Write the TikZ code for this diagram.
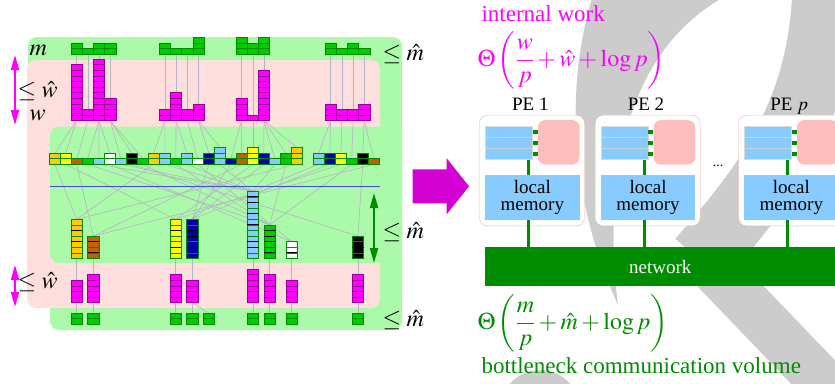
\documentclass[tikz,border=0pt]{standalone}
\usepackage{mathptmx}
\usepackage{fontspec}
\setmainfont{Liberation Serif}
\usetikzlibrary{arrows.meta}

\definecolor{bandgreen}{RGB}{170,250,170}
\definecolor{bandpink}{RGB}{255,222,222}
\definecolor{cgold}{RGB}{255,204,0}
\definecolor{cyellow}{RGB}{255,255,0}
\definecolor{cbrown}{RGB}{192,96,0}
\definecolor{cgreen}{RGB}{0,204,0}
\definecolor{clblue}{RGB}{136,204,255}
\definecolor{cdblue}{RGB}{0,0,170}
\definecolor{cmag}{RGB}{255,0,255}
\definecolor{magline}{RGB}{150,0,150}
\definecolor{grnline}{RGB}{0,140,0}
\definecolor{netgreen}{RGB}{0,140,0}
\definecolor{pepink}{RGB}{255,190,190}
\definecolor{peline}{RGB}{255,170,170}
\definecolor{arrowmag}{RGB}{210,0,210}
\definecolor{linkgray}{RGB}{180,180,190}
\definecolor{wmgray}{RGB}{204,204,204}
\definecolor{splitblue}{RGB}{70,70,230}

\newcommand{\bigfont}{\fontsize{23}{27}\selectfont}
\newcommand{\formfont}{\fontsize{24}{28}\selectfont}
\newcommand{\pefont}{\fontsize{19}{16.5}\selectfont}
\newcommand{\labfont}{\fontsize{24}{28}\selectfont}

% a column of #3 cells, left edge #1, bottom #2
\newcommand{\cells}[4]{%
  \foreach \j in {1,...,#3}
    \filldraw[#4] (#1,#2-5.6*\j+5.6) rectangle ++(11.2,-5.6);%
}

\pgfdeclarelayer{back}
\pgfdeclarelayer{links}
\pgfsetlayers{back,links,main}

\tikzset{
  link/.style={draw=linkgray, line width=0.6pt},
  magcell/.style={fill=cmag, draw=magline, line width=0.6pt},
  grncell/.style={fill=cgreen, draw=grnline, line width=0.6pt},
  colcell/.style={fill=#1, draw=grnline, line width=0.6pt},
  sepline/.style={draw=black, line width=0.9pt},
  bus/.style={draw=netgreen, line width=3pt},
  port/.style={draw=netgreen, line width=3.5pt},
  pebox/.style={draw=peline, fill=white, rounded corners=8pt, minimum width=105pt, minimum height=110.7pt, inner sep=0pt},
  regbox/.style={fill=clblue, draw=gray!30, minimum width=47.3pt, minimum height=33.3pt, inner sep=0pt},
  cachebox/.style={fill=pepink, rounded corners=7pt, minimum width=41.6pt, minimum height=44.3pt, inner sep=0pt},
  membox/.style={fill=clblue, minimum width=94.3pt, minimum height=45pt, inner sep=0pt, align=center, font=\pefont},
  netbox/.style={fill=netgreen, text=white, minimum width=351.4pt, minimum height=39.3pt, inner sep=0pt, font=\pefont},
  pelabel/.style={anchor=base, font=\pefont},
  bound/.style={line width=2pt, {Triangle[width=8pt,length=15pt]}-{Triangle[width=8pt,length=15pt]}},
}

\begin{document}
\begin{tikzpicture}[x=1pt, y=-1pt, font=\labfont]
\useasboundingbox (0,0) rectangle (835,383);

\begin{pgfonlayer}{back}
  % grey backdrop
  \fill[wmgray] (592,-2) .. controls (565,90) and (570,200) .. (618,305)
    .. controls (605,200) and (615,60) .. (722,-2) -- cycle;
  \draw[wmgray, line width=65pt] (825,-10) .. controls (820,120) and (760,190) .. (700,260);
  \draw[wmgray, line width=48pt] (715,270) -- (835,395);
  \fill[wmgray] (540,410) circle (40);
  % bands
  \fill[bandgreen, rounded corners=9pt] (28,37) rectangle (402,300);
  \fill[bandgreen, rounded corners=9pt] (50,250) rectangle (402,330);
  \fill[bandpink, rounded corners=9pt] (27,60) rectangle (380,308);
  \fill[bandgreen, rounded corners=9pt] (50,126.5) rectangle (402,263);
\end{pgfonlayer}

\draw[splitblue, line width=1.2pt] (50,186.7) -- (380,186.7);

% input and locally sorted data
\foreach \x/\g/\m [count=\k] in {71/2/10, 82.2/1/2, 93.4/2/11, 104.6/2/4,
    159.3/2/2, 170.5/1/5, 181.7/1/2, 192.9/3/3, 236/3/4, 247.2/2/1, 258.4/3/9,
    325/2/3, 336.2/1/2, 347.4/2/2, 358.6/1/3}{
  \coordinate (src\k) at (\x+5.6,120.7);
  \begin{pgfonlayer}{links}
    \draw[link] (\x+5.6,54.3) -- (src\k);
  \end{pgfonlayer}
  \cells{\x}{54.3}{\g}{grncell}
  \cells{\x}{120.7}{\m}{magcell}
}

% classified pieces
\foreach \c/\n [count=\i from 0] in {cgold/2, cyellow/2, cbrown/1, cgreen/1,
    clblue/1, white/2, clblue/1, black/2, cgreen/1, cgold/2, clblue/2, cgreen/1,
    clblue/2, white/1, cdblue/2, clblue/3, cdblue/1, cbrown/2, cyellow/3,
    cdblue/2, clblue/1, cgreen/2, cgold/3, none/0, clblue/2, cdblue/2,
    cyellow/2, cgreen/1, black/2, cbrown/1}{
  \ifnum\n>0
    \coordinate (in\i) at (54.8+11*\i,164.3-5.6*\n);
    \coordinate (out\i) at (54.8+11*\i,164.3);
    \cells{49.2+11*\i}{164.3}{\n}{colcell=\c}
  \fi
}

% buckets, their sorted copies and the output
\foreach \x/\n/\c/\s/\m [count=\k] in {71/7/cgold/{2,4}/4, 87.7/4/cbrown/{1,3}/5,
    170/7/cyellow/{2,5}/5, 186.7/7/cdblue/{2,3,5}/4, 247.3/12/clblue/{1,2,4,6,9,10}/6,
    264/6/cgreen/{1,2,3,5}/5, 286/3/white/{2}/4, 352.3/4/black/{2}/5}{
  \coordinate (dst\k) at (\x+5.6,258.5-5.6*\n);
  \coordinate (mag\k) at (\x+5.6,302.7);
  \cells{\x}{258.5}{\n}{colcell=\c}
  \foreach \t in \s \draw[sepline] (\x,258.5-5.6*\n+5.6*\t) -- ++(11.2,0);
  \cells{\x}{302.7}{\m}{magcell}
  \cells{\x}{324.3}{2}{grncell}
  \begin{pgfonlayer}{links}
    \draw[link] (\x+5.6,258.5) -- (\x+5.6,302.7-5.6*\m);
    \draw[link] (mag\k) -- (\x+5.6,313.1);
  \end{pgfonlayer}
}
\cells{203.3}{324.3}{2}{grncell}
\coordinate (xtra) at (208.9,313.1);

\begin{pgfonlayer}{links}
  \draw[link] (mag4) -- (xtra);
  \foreach \i/\k in {0/1, 1/1, 2/2, 3/3, 4/3, 5/3, 6/4, 7/4, 8/4, 9/5, 10/5,
      11/6, 12/6, 13/7, 14/8, 15/8, 16/9, 17/9, 18/10, 19/11, 20/11, 21/11,
      22/11, 24/12, 25/12, 26/13, 27/14, 28/15, 29/15}
    \draw[link] (src\k) -- (in\i);
  \foreach \i/\k in {0/1, 9/1, 22/1, 2/2, 17/2, 29/2, 1/3, 18/3, 26/3, 14/4,
      16/4, 19/4, 25/4, 4/5, 6/5, 10/5, 12/5, 15/5, 20/5, 24/5, 3/6, 8/6, 11/6,
      21/6, 27/6, 5/7, 13/7, 7/8, 28/8}
    \draw[link] (out\i) -- (dst\k);
\end{pgfonlayer}

% bounds
\coordinate (wa) at (15,55);
\coordinate (wb) at (15,125);
\coordinate (wc) at (15,265);
\coordinate (wd) at (15,307);
\coordinate (ma) at (374,193);
\coordinate (mb) at (374,263);
\draw[bound, cmag] (wa) -- (wb);
\draw[bound, cmag] (wc) -- (wd);
\draw[bound, netgreen] (ma) -- (mb);

\node[anchor=base west] (lm) at (26,55) {$m$};
\node[anchor=base west] (lw) at (14,97) {$\le\hat{w}$};
\node[anchor=base west] (lww) at (26,120) {$w$};
\node[anchor=base west] (lw2) at (14,288) {$\le\hat{w}$};
\node[anchor=base west] (rm1) at (379,60) {$\le\hat{m}$};
\node[anchor=base west] (rm2) at (379,238) {$\le\hat{m}$};
\node[anchor=base west] (rm3) at (379,326) {$\le\hat{m}$};

% machine model
\fill[arrowmag] (412.7,169.3) -- (446.7,169.3) -- (446.7,158.3) -- (469,186.3)
  -- (446.7,214.3) -- (446.7,203.3) -- (412.7,203.3) -- cycle;

\node[netbox, anchor=north west] (net) at (484.3,246.7) {network};

\foreach \X/\k/\lab in {479.3/1/{PE 1}, 595/2/{PE 2}, 738.3/3/{PE~$p$}}{
  \node[pebox, anchor=north west] (pe\k) at (\X,115) {};
  \node[regbox, anchor=north west] (reg\k) at (\X+5.7,126) {};
  \draw[gray!35, line width=0.8pt] (\X+5.7,137.1) -- ++(47.3,0) (\X+5.7,148.2) -- ++(47.3,0);
  \node[cachebox, anchor=north west] (cache\k) at (\X+58.4,120) {};
  \foreach \s in {11,0,-11}{
    \path ([yshift=\s pt]reg\k.east) coordinate (p);
    \draw[port] (p) -- (p -| cache\k.west);
  }
  \node[membox, anchor=north west] (mem\k) at (\X+5.7,175) {local\\memory};
  \coordinate (bus\k) at (\X+49.4,0);
  \draw[bus] (reg\k.south -| bus\k) -- (mem\k.north -| bus\k);
  \draw[bus] (mem\k.south -| bus\k) -- (net.north -| bus\k);
  \node[pelabel] (lab\k) at (\X+51,110) {\lab};
}
\node[font=\fontsize{14}{14}\selectfont] (dots) at (718,166) {...};

\node[anchor=base west, text=cmag, font=\bigfont] (worktxt) at (478,21) {internal work};
\node[anchor=west, text=cmag, font=\formfont] (work) at (474,60)
  {$\displaystyle\Theta\left(\frac{w}{p}+\hat{w}+\log p\right)$};
\node[anchor=west, text=netgreen, font=\formfont] (comm) at (474,323)
  {$\displaystyle\Theta\left(\frac{m}{p}+\hat{m}+\log p\right)$};
\node[anchor=base west, text=netgreen, font=\bigfont] (commtxt) at (478,373.3)
  {bottleneck communication volume};
\end{tikzpicture}
\end{document}
